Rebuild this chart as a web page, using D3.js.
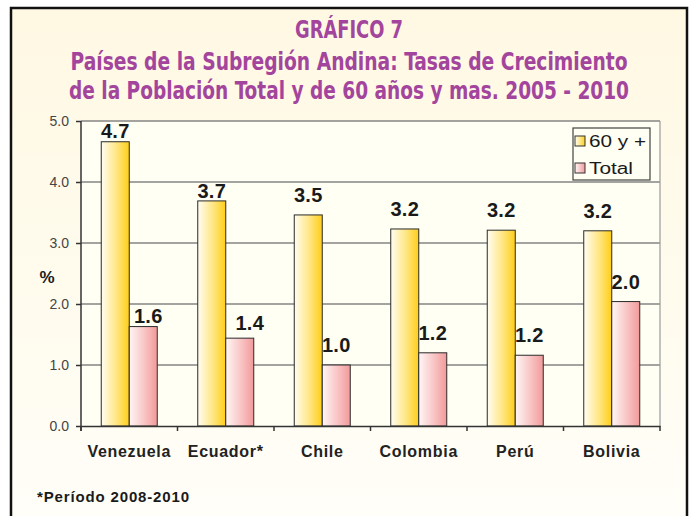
<!DOCTYPE html>
<html>
<head>
<meta charset="utf-8">
<script src="https://cdn.jsdelivr.net/npm/d3@7"></script>
<style>
  body { margin: 0; background: #fff; }
  text { font-family: "Liberation Sans", Arial, sans-serif; }
</style>
</head>
<body>
<svg id="chart" width="692" height="516"></svg>
<script>
// datos
const paises = ["Venezuela", "Ecuador*", "Chile", "Colombia", "Perú", "Bolivia"];
const series = ["60 y +", "Total"];
const tasa60 = [4.66, 3.69, 3.46, 3.23, 3.21, 3.2];
const tasaTotal = [1.63, 1.44, 1.0, 1.2, 1.16, 2.04];
const yTicks = [0, 1, 2, 3, 4, 5];
const titulo = ["GRÁFICO 7",
  "Países de la Subregión Andina: Tasas de Crecimiento",
  "de la Población Total y de 60 años y mas. 2005 - 2010"];
const nota = "*Período 2008-2010";

// etiquetas movidas a mano en el original: [dx, separacion]
const ajusteEtiqueta = {
  "Venezuela|60 y +": [0, 4], "Venezuela|Total": [5, 4],
  "Ecuador*|60 y +": [0, 2.5], "Ecuador*|Total": [10, 8]
};

const svg = d3.select("#chart");
const defs = svg.append("defs");

function grad(id, stops, vertical) {
  const g = defs.append("linearGradient").attr("id", id)
    .attr("x1", 0).attr("y1", 0)
    .attr("x2", vertical ? 0 : 1).attr("y2", vertical ? 1 : 0);
  stops.forEach(s => g.append("stop").attr("offset", s[0]).attr("stop-color", s[1]));
}
grad("fondo", [[0, "#fff8e3"], [0.6, "#fffcef"], [1, "#fffef9"]], true);
grad("amarillo", [[0, "#fffdf2"], [0.55, "#ffe682"], [1, "#ffce17"]]);
grad("rosa", [[0, "#fff6f6"], [0.55, "#f9c4c4"], [1, "#f29a9a"]]);

// marco
svg.append("rect")
  .attr("x", 11).attr("y", 8).attr("width", 676).attr("height", 530)
  .attr("fill", "url(#fondo)")
  .attr("stroke", "#111").attr("stroke-width", 2.5);

// titulo
const tPos = [[38, 108], [70, 557], [99, 560]];
titulo.forEach((t, i) => {
  svg.append("text")
    .attr("x", 349).attr("y", tPos[i][0])
    .attr("text-anchor", "middle")
    .attr("textLength", tPos[i][1])
    .attr("lengthAdjust", "spacingAndGlyphs")
    .style("font-family", "'Liberation Sans Narrow', 'DejaVu Sans Condensed', sans-serif")
    .style("font-weight", "bold")
    .style("font-size", "25px")
    .style("fill", "#a3459c")
    .text(t);
});

const pLeft = 81, pRight = 660, pTop = 121, pBottom = 426;

const x = d3.scaleBand().domain(paises).range([pLeft, pRight]);
const y = d3.scaleLinear().domain([0, 5]).range([pBottom, pTop]);
const barW = 28;
const x1 = d3.scaleBand().domain(series)
  .range([(x.bandwidth() - 2 * barW) / 2, (x.bandwidth() + 2 * barW) / 2]);

// area de trazado
svg.append("rect")
  .attr("x", pLeft).attr("y", pTop).attr("width", pRight - pLeft).attr("height", pBottom - pTop)
  .attr("fill", "#fffff3");

// lineas de division
svg.append("g").selectAll("line")
  .data(yTicks.filter(d => d > 0))
  .enter().append("line")
  .attr("x1", pLeft).attr("x2", pRight)
  .attr("y1", d => y(d)).attr("y2", d => y(d))
  .attr("stroke", "#858585").attr("stroke-width", 1.5);

svg.append("line")
  .attr("x1", pRight).attr("x2", pRight).attr("y1", pTop).attr("y2", pBottom)
  .attr("stroke", "#9a9a9a").attr("stroke-width", 1.2);

// barras
const datos = paises.map((p, i) => ({ pais: p, valores: [
  { p: p, s: "60 y +", v: tasa60[i] }, { p: p, s: "Total", v: tasaTotal[i] }] }));
const colores = { "60 y +": "url(#amarillo)", "Total": "url(#rosa)" };

const grupo = svg.append("g").selectAll("g")
  .data(datos).enter().append("g")
  .attr("transform", d => "translate(" + x(d.pais) + ",0)");

grupo.selectAll("rect")
  .data(d => d.valores).enter().append("rect")
  .attr("x", d => x1(d.s)).attr("width", x1.bandwidth())
  .attr("y", d => y(d.v)).attr("height", d => pBottom - y(d.v))
  .attr("fill", d => colores[d.s])
  .attr("stroke", "#2a2a2a").attr("stroke-width", 1);

const ajuste = d => ajusteEtiqueta[d.p + "|" + d.s] || [0, 13];
grupo.selectAll("text")
  .data(d => d.valores).enter().append("text")
  .attr("x", d => x1(d.s) + x1.bandwidth() / 2 + ajuste(d)[0])
  .attr("y", d => y(d.v) - ajuste(d)[1])
  .attr("text-anchor", "middle")
  .style("font-weight", "bold").style("font-size", "20px")
  .style("letter-spacing", "0.3px")
  .style("fill", "#1a1a1a")
  .text(d => d3.format(".1f")(d.v));

// ejes
const yAxis = svg.append("g")
  .attr("transform", "translate(" + pLeft + ",0)")
  .call(d3.axisLeft(y).tickValues(yTicks).tickFormat(d3.format(".1f")).tickSize(5).tickPadding(7));
yAxis.select(".domain").attr("stroke", "#333").attr("stroke-width", 1.5)
  .attr("d", "M0," + pTop + "V" + (pBottom + 5));
yAxis.selectAll(".tick line").attr("stroke", "#333").attr("stroke-width", 1.5);
yAxis.selectAll(".tick text")
  .style("font-size", "14px").style("fill", "#444")
  .style("font-family", "'Liberation Sans', Arial, sans-serif");

const xAxis = svg.append("g")
  .attr("transform", "translate(0," + pBottom + ")")
  .call(d3.axisBottom(x).tickSize(0).tickPadding(20));
xAxis.select(".domain").attr("stroke", "#333").attr("stroke-width", 1.5);
xAxis.selectAll(".tick text")
  .style("font-size", "16px").style("font-weight", "bold")
  .style("letter-spacing", "0.7px").style("fill", "#222")
  .style("font-family", "'Liberation Sans', Arial, sans-serif");

// marcas entre categorias
svg.append("g").selectAll("line")
  .data(paises.concat(["fin"]))
  .enter().append("line")
  .attr("x1", (d, i) => pLeft + i * x.step()).attr("x2", (d, i) => pLeft + i * x.step())
  .attr("y1", pBottom).attr("y2", pBottom + 5)
  .attr("stroke", "#333").attr("stroke-width", 1.5);

// etiqueta del eje
svg.append("text")
  .attr("x", 47).attr("y", 283)
  .attr("text-anchor", "middle")
  .style("font-weight", "bold").style("font-size", "17px").style("fill", "#1a1a1a")
  .text("%");

// leyenda
const leg = svg.append("g").attr("transform", "translate(573,128)");
leg.append("rect")
  .attr("width", 77).attr("height", 52)
  .attr("fill", "#fffff3").attr("stroke", "#444").attr("stroke-width", 1.2);
const anchoLeyenda = [57, 44];
const item = leg.selectAll("g.item").data(series).enter().append("g")
  .attr("class", "item")
  .attr("transform", (d, i) => "translate(2," + (8 + i * 27) + ")");
item.append("rect")
  .attr("width", 10).attr("height", 10)
  .attr("fill", d => colores[d]).attr("stroke", "#333").attr("stroke-width", 1);
item.append("text")
  .attr("x", 14).attr("y", 10.5)
  .attr("textLength", (d, i) => anchoLeyenda[i])
  .attr("lengthAdjust", "spacingAndGlyphs")
  .style("font-size", "16px").style("fill", "#1a1a1a")
  .text(d => d);

// nota
svg.append("text")
  .attr("x", 37).attr("y", 502)
  .attr("textLength", 152).attr("lengthAdjust", "spacing")
  .style("font-weight", "bold").style("font-size", "15px").style("fill", "#1a1a1a")
  .text(nota);
</script>
</body>
</html>
